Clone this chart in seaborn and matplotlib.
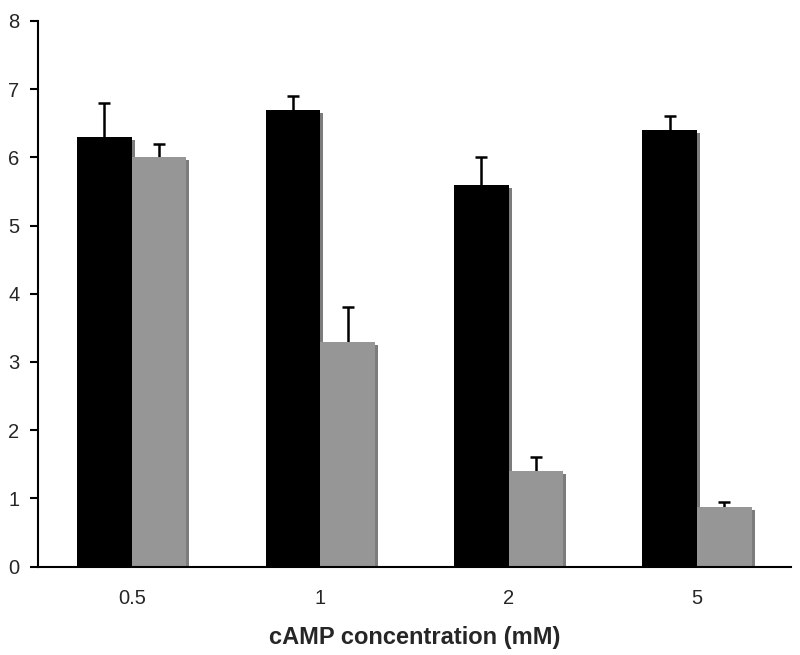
import pandas as pd
import matplotlib
matplotlib.use('Agg')
import matplotlib.pyplot as plt
import matplotlib.patheffects as pe
import seaborn as sns

# datos
conc = ['0.5', '1', '2', '5']
black_vals = [6.3, 6.7, 5.6, 6.4]
black_err = [0.5, 0.2, 0.4, 0.2]
gray_vals = [6.0, 3.3, 1.4, 0.87]
gray_err = [0.2, 0.5, 0.2, 0.07]

df = pd.DataFrame({
    'conc': conc * 2,
    'valor': black_vals + gray_vals,
    'grupo': ['a'] * 4 + ['b'] * 4,
})

sns.set_style('white')
plt.rcParams['font.family'] = ['Liberation Sans', 'DejaVu Sans']

fig = plt.figure(figsize=(8, 6.55), dpi=100)
ax = fig.add_axes([0.047, 0.135, 0.942, 0.833])

sns.barplot(data=df, x='conc', y='valor', hue='grupo', order=conc,
            palette=['#000000', '#969696'], width=0.58, gap=0,
            saturation=1, legend=False, ax=ax, errorbar=None,
            linewidth=0)

sombra = [pe.SimplePatchShadow(offset=(2.2, -2.2), shadow_rgbFace='#7c7c7c', alpha=1),
          pe.Normal()]

# barras de error (la mitad de abajo queda tapada por la barra)
for cont, errs in zip(ax.containers, [black_err, gray_err]):
    xs = []
    ys = []
    for p in cont.patches:
        p.set_path_effects(sombra)
        p.set_zorder(2)
        xs.append(p.get_x() + p.get_width() / 2)
        ys.append(p.get_height())
    ax.errorbar(xs, ys, yerr=errs, fmt='none',
                ecolor='black', elinewidth=1.8, capsize=4.2, capthick=1.8,
                zorder=1)

ax.set_ylim(0, 8)
ax.set_xlim(-0.5, 3.5)
ax.set_yticks(range(0, 9))
ax.set_xticks([i - 0.5 for i in range(5)], minor=True)
ax.tick_params(axis='x', which='major', length=0, pad=16, labelsize=14.5)
ax.tick_params(axis='x', which='minor', length=7, width=1.5, direction='out', color='black')
ax.tick_params(axis='y', length=6, width=1.5, direction='out', color='black', labelsize=14.5, pad=7)
ax.tick_params(axis='both', bottom=True, left=True)
ax.xaxis.set_tick_params(which='major', bottom=False)

for s in ['top', 'right']:
    ax.spines[s].set_visible(False)
for s in ['left', 'bottom']:
    ax.spines[s].set_color('black')
    ax.spines[s].set_linewidth(1.5)

ax.set_xlabel('cAMP concentration (mM)', fontsize=17, fontweight='bold', labelpad=13)
ax.set_ylabel('')

fig.savefig('out.png', dpi=100)
